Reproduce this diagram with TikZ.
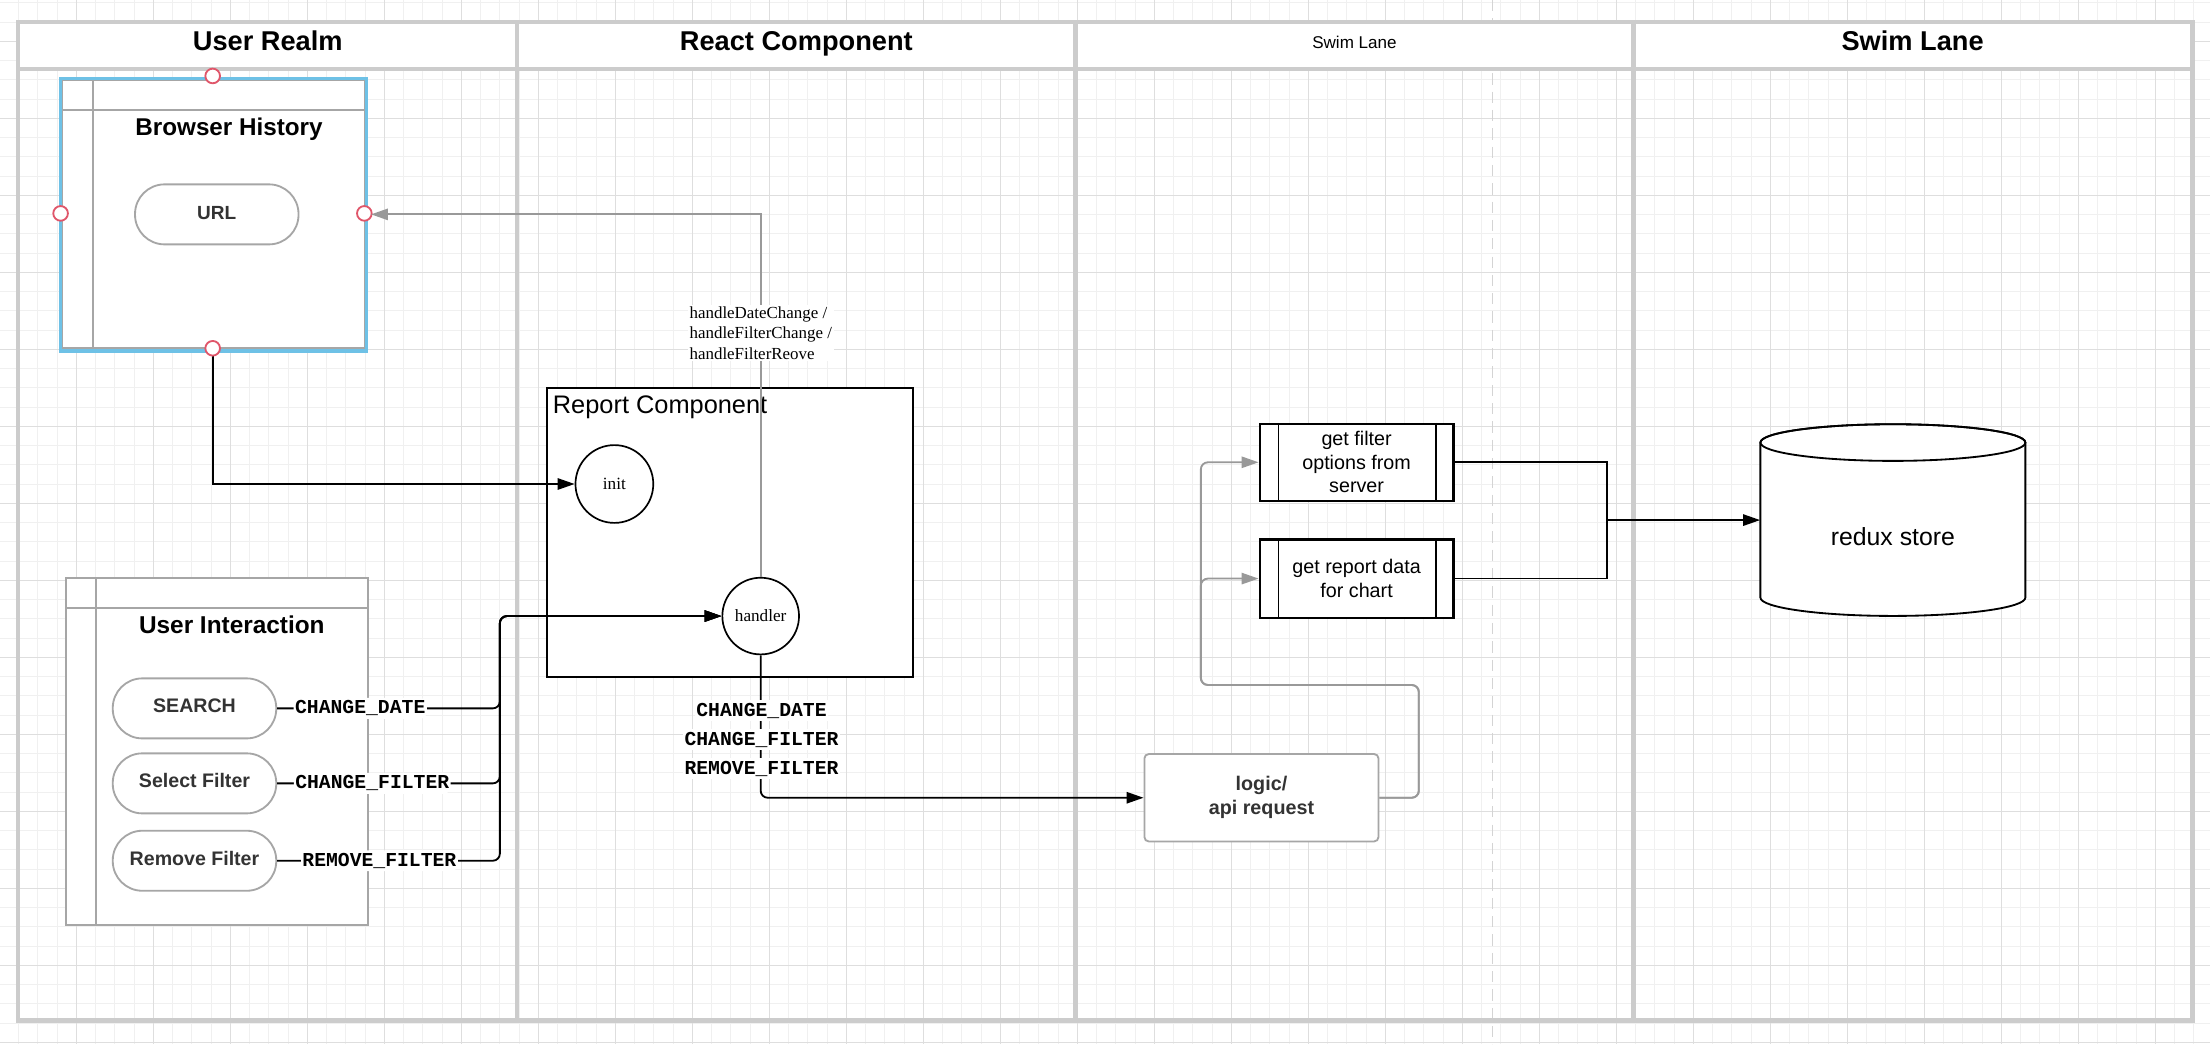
\documentclass[tikz,border=0pt]{standalone}
\usepackage{fontspec}
\setmainfont{Liberation Sans}
\newfontfamily\serifA{Liberation Serif}
\newfontfamily\monoA{Liberation Mono}
\usetikzlibrary{arrows.meta}
\definecolor{lanegray}{HTML}{CCCCCC}
\definecolor{gridminor}{HTML}{F0F0F0}
\definecolor{gridmajor}{HTML}{DEDEDE}
\definecolor{conngray}{HTML}{999999}
\definecolor{boxgray}{HTML}{A6A6A6}
\definecolor{selblue}{HTML}{6EC1E6}
\definecolor{handlered}{HTML}{E0566A}
\definecolor{txtgray}{HTML}{333333}
\definecolor{dashgray}{HTML}{D4D4D4}
\tikzset{
  lane/.style={draw=lanegray, line width=3pt},
  tipA/.style={-{Triangle[length=12pt,width=8pt]}},
  conn/.style={draw=black, line width=1.3pt, tipA},
  gconn/.style={draw=conngray, line width=1.3pt, -{Triangle[length=12pt,width=8pt,fill=conngray]}},
  hdr/.style={anchor=base, font=\bfseries\fontsize{19.3}{23}\selectfont},
  pill/.style={draw=boxgray, fill=white, line width=1.3pt, rounded corners=21pt, minimum width=116pt, minimum height=42.6pt, inner sep=0pt, text height=10pt, text depth=3.8pt, text=txtgray, font=\bfseries\fontsize{13.9}{16}\selectfont},
  monolbl/.style={fill=white, inner xsep=1pt, inner ysep=2pt, font=\monoA\bfseries\fontsize{14}{16}\selectfont},
  roundcirc/.style={circle, draw, fill=white, line width=1.2pt, inner sep=0pt, font=\serifA\fontsize{12.2}{14}\selectfont},
  handle/.style={circle, draw=handlered, fill=white, line width=1.3pt, minimum size=10.4pt, inner sep=0pt},
  procbox/.style={draw, fill=white, line width=1.6pt, minimum width=137.5pt, align=center, inner sep=0pt, font=\fontsize{14}{16.6}\selectfont},
  graybox/.style={draw=boxgray, fill=white, line width=1.3pt, inner sep=0pt},
  boxtitle/.style={anchor=base, font=\bfseries\fontsize{17.2}{20}\selectfont}
}
\begin{document}
\begin{tikzpicture}[x=1pt,y=-1pt]
\fill[white] (0,0) rectangle (1568,741);
\useasboundingbox (0,0) rectangle (1568,741);
% grid
\foreach \i in {0,...,115} {\draw[gridminor, line width=0.7pt] ({\i*13.6575-0.4},0) -- ({\i*13.6575-0.4},741);}
\foreach \i in {0,...,54} {\draw[gridminor, line width=0.7pt] (0,{1.985+\i*13.6575}) -- (1568,{1.985+\i*13.6575});}
\foreach \i in {0,...,29} {\draw[gridmajor, line width=0.8pt] ({\i*54.63-0.4},0) -- ({\i*54.63-0.4},741);}
\foreach \i in {0,...,13} {\draw[gridmajor, line width=0.8pt] (0,{29.3+\i*54.63}) -- (1568,{29.3+\i*54.63});}
% dashed guide
\draw[dashgray, line width=1.2pt, dash pattern=on 8pt off 5pt] (1059,0) -- (1059,741);
% swim lanes
\fill[white] (12.7,15.8) rectangle (1555.5,49);
\draw[lane] (12.7,15.8) rectangle (1555.5,724);
\draw[lane, line width=3.3pt] (12.7,49) -- (1555.5,49);
\draw[lane, line width=3.6pt] (12.7,724) -- (1555.5,724);
\draw[lane] (367,15.8) -- (367,724);
\draw[lane] (763,15.8) -- (763,724);
\draw[lane] (1159,15.8) -- (1159,724);
\node[hdr] (h1) at (190,36) {User Realm};
\node[hdr] (h2) at (565,36) {React Component};
\node[anchor=base, font=\fontsize{12.1}{14}\selectfont] (h3) at (961,34.4) {Swim Lane};
\node[hdr] (h4) at (1357,36) {Swim Lane};

% Browser History
\node[graybox, minimum width=214.4pt, minimum height=190.2pt] (bh) at (151.4,152.1) {};
\draw[boxgray, line width=1.3pt] (44.2,78) -- (258.6,78);
\draw[boxgray, line width=1.3pt] (65.8,57) -- (65.8,247.2);
\draw[selblue, line width=2.2pt] (43.1,55.6) rectangle (260.2,249);
\node[boxtitle] (bhtitle) at (162.5,96) {Browser History};
\node[pill, text height=9.7pt, text depth=2.7pt, font=\bfseries\fontsize{13.5}{16}\selectfont] (url) at (153.8,152.1) {URL};

% User Interaction
\node[graybox, minimum width=214pt, minimum height=245.7pt] (ui) at (154,533.15) {};
\draw[boxgray, line width=1.3pt] (47,431.6) -- (261,431.6);
\draw[boxgray, line width=1.3pt] (68,410.3) -- (68,656);
\node[boxtitle, font=\bfseries\fontsize{17.3}{20}\selectfont] (uititle) at (164.5,449.5) {User Interaction};
\node[pill] (search) at (138,502.6) {SEARCH};
\node[pill] (selfilter) at (138,555.8) {Select Filter};
\node[pill] (remfilter) at (138,610.7) {Remove Filter};

% Report component
\node[draw, fill=white, line width=1.3pt, minimum width=259.7pt, minimum height=205.1pt, inner sep=0pt] (report) at (518.15,378.05) {};
\node[anchor=base west, inner sep=0pt, font=\fontsize{18}{21}\selectfont] (reportlbl) at (392.1,293.3) {Report Component};
\node[roundcirc, minimum size=55.2pt] (init) at (435.9,343.4) {init};
\node[roundcirc, minimum size=54.4pt] (handler) at (539.7,437.1) {handler};

% logic / api
\node[graybox, rounded corners=3pt, minimum width=166pt, minimum height=62pt, align=center, text=txtgray, font=\bfseries\fontsize{14}{17}\selectfont] (logic) at (895,566) {logic/\\api request};

% process boxes
\node[procbox, minimum height=54.4pt] (getfilter) at (962.5,328) {get filter\\options from\\server};
\node[procbox, minimum height=55.5pt] (getreport) at (962.5,410.5) {get report data\\for chart};
\foreach \b in {getfilter,getreport} {
  \draw[line width=1.1pt] ([xshift=14.2pt]\b.north west) -- ([xshift=14.2pt]\b.south west);
  \draw[line width=1.1pt] ([xshift=-13.4pt]\b.north east) -- ([xshift=-13.4pt]\b.south east);
}

% redux store
\node[minimum width=188pt, minimum height=136pt, inner sep=0pt] (redux) at (1343,369) {};
\draw[line width=1.3pt, fill=white] (1249,314) -- (1249,424) arc[start angle=180, end angle=0, x radius=94, y radius=13] -- (1437,314) arc[start angle=0, end angle=-180, x radius=94, y radius=13] -- cycle;
\draw[line width=1.3pt] (1343,314) ellipse[x radius=94, y radius=13];
\node[font=\fontsize{17.6}{20}\selectfont] (reduxlbl) at (1343,381) {redux store};

% connectors
\draw[conn] (bh.south) |- (init.west);
\node[handle] (hn) at (150.9,53.9) {};
\node[handle] (hw) at (43,151.4) {};
\node[handle] (he) at (258.5,151.4) {};
\node[handle] (hs) at (150.9,247.1) {};
\draw[gconn] (handler.north) |- ([xshift=4pt]bh.east);
\node[anchor=north west, fill=white, inner sep=1.5pt, align=left, font=\serifA\fontsize{12}{14.4}\selectfont] (hlbl) at (487.6,216) {handleDateChange /\\handleFilterChange /\\handleFilterReove};

\draw[conn, rounded corners=5pt] (search.east) -- node[monolbl, pos=0.373] (l1) {CHANGE\_DATE} ++(158,0) |- (handler.west);
\draw[conn, rounded corners=5pt] (selfilter.east) -- node[monolbl, pos=0.427] (l2) {CHANGE\_FILTER} ++(158,0) |- (handler.west);
\draw[conn, rounded corners=5pt] (remfilter.east) -- node[monolbl, pos=0.459] (l3) {REMOVE\_FILTER} ++(158,0) |- (handler.west);

\draw[conn, rounded corners=5pt] (handler.south) |- (logic.west);
\node[monolbl, anchor=base] (c1) at (540.3,508.3) {CHANGE\_DATE};
\node[monolbl, anchor=base] (c2) at (540.3,528.6) {CHANGE\_FILTER};
\node[monolbl, anchor=base] (c3) at (540.3,549.4) {REMOVE\_FILTER};

\draw[gconn, rounded corners=5pt] (logic.east) -- ++(28,0) |- (852,486) |- (getfilter.west);
\draw[gconn, rounded corners=5pt] (logic.east) -- ++(28,0) |- (852,486) |- (getreport.west);

\coordinate (join) at (1140,369);
\draw[line width=1.3pt] (getfilter.east) -| (join);
\draw[line width=1.3pt] (getreport.east) -| (join);
\draw[conn] (join) -- (redux.west);
\end{tikzpicture}
\end{document}
